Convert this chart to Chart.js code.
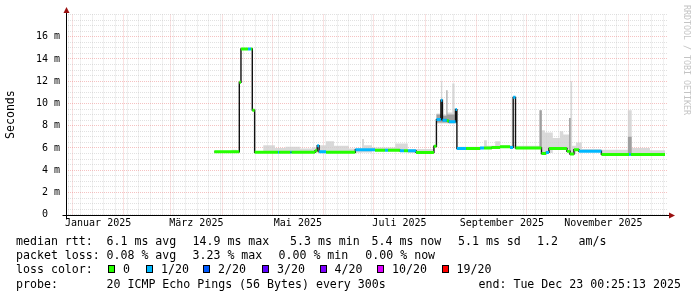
<!DOCTYPE html>
<html lang="de">
<head>
<meta charset="UTF-8">
<title>Smokeping - median rtt</title>
<script src="https://cdn.jsdelivr.net/npm/chart.js@4.4.1/dist/chart.umd.min.js"></script>
<style>
    body { margin: 0; background: #fff; }
    #wrap { position: relative; width: 697px; height: 297px; font-family: "DejaVu Sans Mono", monospace; }
    #chart { position: absolute; left: 0; top: 0; }
    .t { position: absolute; font-size: 11.6px; line-height: 14px; white-space: pre; color: #000; }
    .box { position: absolute; width: 7px; height: 8px; box-sizing: border-box; border: 1px solid #000; }
    #mark { position: absolute; left: 682px; top: 5px; font-size: 8.3px; line-height: 10px; color: #c4c4c4; writing-mode: vertical-rl; white-space: pre; }
</style>
</head>
<body>
<div id="wrap">
    <canvas id="chart" width="697" height="297"></canvas>
    <div id="mark">RRDTOOL / TOBI OETIKER</div>

    <div class="t" style="left:16px;top:234px">median rtt:</div>
    <div class="t" style="left:106.5px;top:234px">6.1 ms avg</div>
    <div class="t" style="left:192.5px;top:234px">14.9 ms max</div>
    <div class="t" style="left:290px;top:234px">5.3 ms min</div>
    <div class="t" style="left:371.5px;top:234px">5.4 ms now</div>
    <div class="t" style="left:458px;top:234px">5.1 ms sd</div>
    <div class="t" style="left:537px;top:234px">1.2</div>
    <div class="t" style="left:578.5px;top:234px">am/s</div>

    <div class="t" style="left:16px;top:248.3px">packet loss:</div>
    <div class="t" style="left:106.5px;top:248.3px">0.08 % avg</div>
    <div class="t" style="left:192.5px;top:248.3px">3.23 % max</div>
    <div class="t" style="left:278.5px;top:248.3px">0.00 % min</div>
    <div class="t" style="left:365.3px;top:248.3px">0.00 % now</div>

    <div class="t" style="left:16px;top:262.3px">loss color:</div>
    <div id="lossKeys"></div>

    <div class="t" style="left:16px;top:276.6px">probe:</div>
    <div class="t" style="left:106.5px;top:276.6px">20 ICMP Echo Pings (56 Bytes) every 300s</div>
    <div class="t" style="left:478.5px;top:276.6px">end: Tue Dec 23 00:25:13 2025</div>
</div>

<script>
    // days are counted from 1 Jan 2025 (day 0), values in milliseconds

    // median rtt steps: start day, value, loss bucket (index into lossColors)
    const medDays = [85.3, 100.3, 101.3, 105.5, 107.3, 108.1, 109.5, 123.5, 124.2, 131.0, 131.7, 145.8, 147.1, 148.2,
        152.4, 170.0, 181.8, 187.8, 189.6, 196.8, 199.2, 201.6, 206.4, 217.2, 218.7, 221.4, 222.3, 225.0, 226.2,
        230.2, 231.0, 236.5, 244.9, 247.3, 252.0, 256.9, 262.9, 264.8, 266.2, 281.8, 284.5, 286.3, 297.1, 298.9,
        301.3, 304.3, 317.8, 334.4, 335.5, 356.0];
    const medMs = [5.65, 11.9, 14.9, 14.9, 14.9, 9.4, 5.62, 5.62, 5.62, 5.62, 5.62, 5.75, 6.2, 5.65,
        5.62, 5.85, 5.8, 5.8, 5.8, 5.75, 5.75, 5.75, 5.6, 6.15, 8.55, 10.3, 8.5, 8.45, 8.35,
        9.45, 5.95, 5.95, 6.0, 6.0, 6.05, 6.1, 6.05, 10.55, 6.0, 5.5, 5.6, 5.95, 5.7, 5.45,
        5.85, 5.7, 5.42, 5.42, 5.42, 5.42];
    const medLoss = [0, 0, 0, 1, 0, 0, 0, 1, 0, 1, 0, 0, 1, 1,
        0, 1, 0, 1, 0, 1, 0, 1, 0, 0, 1, 1, 1, 0, 1,
        1, 1, 0, 1, 0, 0, 0, 1, 1, 0, 0, 1, 0, 0, 0,
        0, 1, 0, 1, 0, 0];

    // light smoke band (spread of the 20 pings)
    const smokeDays = [85.3, 95.7, 98.7, 100.3, 101.3, 108.1, 109.5, 114.7, 121.7, 128.0, 136.7, 144.0, 147.1, 152.4,
        157.2, 166.0, 174.0, 175.2, 180.0, 194.0, 201.5, 217.2, 218.7, 221.4, 222.2, 224.7, 225.3, 228.2, 229.6,
        231.0, 247.3, 249.0, 254.0, 257.0, 266.2, 280.6, 282.0, 283.8, 288.6, 292.8, 294.9, 298.4, 299.3, 300.2,
        302.5, 306.0, 317.8, 333.7, 336.0, 347.0, 356.0];
    const smokeLo = [5.6, 5.6, 5.6, 11.8, 14.8, 9.35, 5.58, 5.58, 5.58, 5.58, 5.58, 5.6, 5.6, 5.58,
        5.58, 5.58, 5.6, 5.6, 5.7, 5.7, 5.55, 6.1, 8.2, 8.2, 8.2, 8.2, 8.2, 8.2, 8.2,
        5.9, 5.9, 5.9, 5.95, 6.0, 5.95, 5.95, 5.45, 5.55, 5.9, 5.9, 5.9, 5.6, 5.45, 5.45,
        5.8, 5.65, 5.38, 5.38, 5.38, 5.38, 5.38];
    const smokeHi = [5.7, 5.85, 5.7, 11.9, 14.95, 9.45, 5.7, 6.25, 6.0, 6.1, 5.95, 6.05, 6.25, 6.6,
        6.2, 5.95, 6.8, 6.25, 6.05, 6.4, 5.9, 6.2, 9.1, 12.0, 9.0, 11.2, 9.2, 11.8, 9.6,
        6.1, 6.7, 6.2, 6.6, 6.25, 6.2, 9.4, 7.6, 7.4, 6.9, 7.5, 7.2, 8.7, 12.0, 6.2,
        6.5, 5.9, 5.85, 9.4, 6.0, 5.8, 5.8];

    // darker smoke core
    const coreDays = [217.2, 218.7, 221.8, 222.8, 224.7, 225.3, 229.6, 231.0, 280.6, 282.0, 298.4, 299.3, 333.7, 336.0, 356.0];
    const coreLo = [6.1, 8.3, 8.3, 8.3, 8.3, 8.3, 8.3, 6.0, 6.0, 5.5, 5.6, 5.5, 5.4, 5.4, 5.4];
    const coreHi = [6.1, 9.0, 10.0, 8.9, 11.2, 9.0, 9.3, 6.0, 9.4, 5.5, 8.7, 5.5, 7.0, 5.4, 5.4];

    const lossColors = ['#26ff00', '#00b8ff', '#0059ff', '#5e00ff', '#7e00ff', '#dd00ff', '#ff0000'];
    const lossLabels = ['0', '1/20', '2/20', '3/20', '4/20', '10/20', '19/20'];

    const monthStarts = [0, 31, 59, 90, 120, 151, 181, 212, 243, 273, 304, 334];
    const monthLabelDays = [15.5, 74.5, 135.5, 196.5, 258, 319];
    const monthLabels = ['Januar 2025', 'März 2025', 'Mai 2025', 'Juli 2025', 'September 2025', 'November 2025'];

    const yMajor = [0, 2, 4, 6, 8, 10, 12, 14, 16];
    const yLabels = ['0  ', '2 m', '4 m', '6 m', '8 m', '10 m', '12 m', '14 m', '16 m'];

    // legend keys for loss colours
    const keyX = [108, 146, 203, 262, 319.5, 377, 441.5];
    const keyBox = document.getElementById('lossKeys');
    lossColors.forEach((c, i) => {
        const b = document.createElement('div');
        b.className = 'box';
        b.style.left = keyX[i] + 'px';
        b.style.top = '265px';
        b.style.background = c;
        keyBox.appendChild(b);
        const t = document.createElement('div');
        t.className = 't';
        t.style.left = (keyX[i] + 15) + 'px';
        t.style.top = '262.3px';
        t.textContent = lossLabels[i];
        keyBox.appendChild(t);
    });

    const pts = (xs, ys) => xs.map((x, i) => ({ x: x, y: ys[i] }));

    // horizontal coloured pieces of the median (verticals are drawn black)
    const segData = [];
    const segLoss = [];
    for (let k = 0; k < medDays.length - 1; k++) {
        segData.push({ x: medDays[k], y: medMs[k] }, { x: medDays[k + 1], y: medMs[k] }, { x: medDays[k + 1], y: null });
        segLoss.push(medLoss[k], medLoss[k], medLoss[k]);
    }

    // x grid: month starts (major), mondays (minor), label positions (no line)
    const xTickKind = {};
    for (let d = -2; d <= 357; d += 7) xTickKind[d] = 'minor';
    monthStarts.forEach(d => xTickKind[d] = 'major');
    monthLabelDays.forEach((d, i) => xTickKind[d] = 'label' + i);

    const MAJOR = 'rgba(230, 110, 110, 0.42)';
    const MINOR = 'rgba(175, 175, 175, 0.38)';

    const axisArrows = {
        id: 'axisArrows',
        afterDraw(chart) {
            const { ctx, chartArea: a } = chart;
            const x0 = Math.round(a.left) + 0.5;
            const y0 = Math.round(a.bottom) + 0.5;
            ctx.save();
            ctx.strokeStyle = '#000';
            ctx.lineWidth = 1;
            ctx.beginPath();
            ctx.moveTo(x0, y0 + 4);
            ctx.lineTo(x0, a.top - 3);
            ctx.moveTo(x0 - 4, y0);
            ctx.lineTo(a.right + 2, y0);
            ctx.stroke();
            ctx.fillStyle = '#9a1010';
            ctx.beginPath();
            ctx.moveTo(x0, a.top - 7.5);
            ctx.lineTo(x0 - 3, a.top - 1.5);
            ctx.lineTo(x0 + 3, a.top - 1.5);
            ctx.fill();
            ctx.beginPath();
            ctx.moveTo(a.right + 7, y0);
            ctx.lineTo(a.right + 1, y0 - 3);
            ctx.lineTo(a.right + 1, y0 + 3);
            ctx.fill();
            ctx.restore();
        }
    };

    Chart.defaults.font.family = '"DejaVu Sans Mono", monospace';
    Chart.defaults.color = '#000';

    new Chart(document.getElementById('chart'), {
        type: 'line',
        data: {
            datasets: [
                {
                    label: 'median',
                    data: segData,
                    borderColor: lossColors[0],
                    borderWidth: 3,
                    spanGaps: false,
                    segment: { borderColor: ctx => lossColors[segLoss[ctx.p0DataIndex]] },
                    pointRadius: 0,
                    order: 0
                },
                {
                    label: 'median steps',
                    data: pts(medDays, medMs),
                    borderColor: '#111',
                    borderWidth: 1.4,
                    stepped: true,
                    pointRadius: 0,
                    order: 1
                },
                {
                    label: 'core top',
                    data: pts(coreDays, coreHi),
                    borderColor: 'rgba(0,0,0,0)',
                    backgroundColor: 'rgba(135,135,135,0.7)',
                    fill: { target: 3 },
                    stepped: true,
                    pointRadius: 0,
                    order: 2
                },
                {
                    label: 'core bottom',
                    data: pts(coreDays, coreLo),
                    borderColor: 'rgba(0,0,0,0)',
                    stepped: true,
                    pointRadius: 0,
                    order: 3
                },
                {
                    label: 'smoke top',
                    data: pts(smokeDays, smokeHi),
                    borderColor: 'rgba(0,0,0,0)',
                    backgroundColor: 'rgba(208,208,208,0.8)',
                    fill: { target: 5 },
                    stepped: true,
                    pointRadius: 0,
                    order: 4
                },
                {
                    label: 'smoke bottom',
                    data: pts(smokeDays, smokeLo),
                    borderColor: 'rgba(0,0,0,0)',
                    stepped: true,
                    pointRadius: 0,
                    order: 5
                }
            ]
        },
        options: {
            responsive: false,
            animation: false,
            devicePixelRatio: 1,
            layout: { padding: { left: 0, right: 29, top: 14.5, bottom: 0 } },
            plugins: { legend: { display: false }, tooltip: { enabled: false } },
            scales: {
                x: {
                    type: 'linear',
                    min: -3.8,
                    max: 357.8,
                    afterFit: s => { s.height = 82.3; },
                    afterBuildTicks: s => {
                        s.ticks = Object.keys(xTickKind).map(Number).sort((a, b) => a - b).map(v => ({ value: v }));
                    },
                    grid: {
                        drawTicks: false,
                        lineWidth: 1,
                        color: ctx => {
                            const k = xTickKind[ctx.tick && ctx.tick.value];
                            return k === 'major' ? MAJOR : (k === 'minor' ? MINOR : 'rgba(0,0,0,0)');
                        }
                    },
                    border: { display: false, dash: [1, 1] },
                    ticks: {
                        autoSkip: false,
                        maxRotation: 0,
                        padding: 3,
                        font: { size: 10 },
                        callback: v => {
                            const k = xTickKind[v];
                            return k && k.startsWith('label') ? monthLabels[+k.slice(5)] : '';
                        }
                    }
                },
                y: {
                    min: 0,
                    max: 18,
                    afterFit: s => { s.width = 66; },
                    afterBuildTicks: s => {
                        const t = [];
                        for (let v = 0; v <= 18; v += 0.5) t.push({ value: v });
                        s.ticks = t;
                    },
                    grid: {
                        drawTicks: false,
                        lineWidth: 1,
                        color: ctx => {
                            const v = ctx.tick && ctx.tick.value;
                            return (yMajor.includes(v) && v > 0) ? MAJOR : MINOR;
                        }
                    },
                    border: { display: false, dash: [1, 1] },
                    ticks: {
                        autoSkip: false,
                        padding: 6,
                        font: { size: 10 },
                        callback: v => {
                            const i = yMajor.indexOf(v);
                            return i >= 0 ? yLabels[i] : '';
                        }
                    },
                    title: {
                        display: true,
                        text: 'Seconds',
                        font: { size: 11.6 },
                        padding: { top: 4, bottom: 0 }
                    }
                }
            }
        },
        plugins: [axisArrows]
    });
</script>
</body>
</html>
